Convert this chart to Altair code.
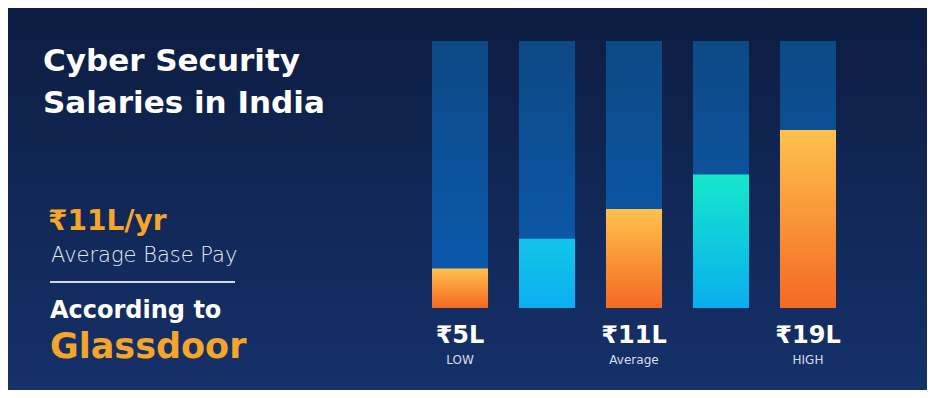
import altair as alt
import pandas as pd

# ---- data ----
categories = ["b1", "b2", "b3", "b4", "b5"]
values = [5, 8, 11, 14.5, 19]          # salary in lakh (₹L)
value_labels = ["₹5L", "", "₹11L", "", "₹19L"]
tier_labels = ["LOW", "", "Average", "", "HIGH"]
styles = ["orange", "cyan", "orange", "teal", "orange"]
y_min, y_max = 1, 28

df = pd.DataFrame({
    "cat": categories,
    "val": values,
    "vlabel": value_labels,
    "tier": tier_labels,
    "style": styles,
})

W, H = 919, 382
FONT = "DejaVu Sans"
ORANGE_TXT = "#f5a52a"


def grad(top, bottom):
    return alt.Gradient(
        gradient="linear",
        stops=[alt.GradientStop(color=top, offset=0),
               alt.GradientStop(color=bottom, offset=1)],
        x1=0, x2=0, y1=0, y2=1,
    )


xscale = alt.Scale(domain=categories, range=[424, 828], paddingInner=0.356, paddingOuter=0)
yscale = alt.Scale(domain=[y_min, y_max], range=[300, 33])
X = alt.X("cat:N", scale=xscale, axis=None)

base = alt.Chart(df)

# page background
bg = alt.Chart(pd.DataFrame({"a": [0]})).mark_rect(
    fill=grad("#0d1d42", "#15316a")
).encode(x=alt.value(0), x2=alt.value(W), y=alt.value(0), y2=alt.value(H))

# track bars
track = base.mark_bar(fill=grad("#0d4984", "#0b5bb2")).encode(
    x=X,
    y=alt.Y(datum=y_max, scale=yscale, axis=None),
    y2=alt.Y2(datum=y_min),
)

def value_bars(style, top, bottom):
    return base.transform_filter(alt.datum.style == style).mark_bar(
        fill=grad(top, bottom)
    ).encode(
        x=X,
        y=alt.Y("val:Q", scale=yscale, axis=None),
        y2=alt.Y2(datum=y_min),
    )

orange = value_bars("orange", "#ffc24d", "#f46924")
cyan = value_bars("cyan", "#12c5e9", "#0bafef")
teal = value_bars("teal", "#16e8cb", "#0aadf0")

vlabels = base.mark_text(
    font=FONT, fontSize=24, fontWeight="bold", color="white", baseline="alphabetic"
).encode(x=X, y=alt.value(335), text="vlabel:N")

tlabels = base.mark_text(
    font=FONT, fontSize=12, color="#d6deec", baseline="alphabetic"
).encode(x=X, y=alt.value(356), text="tier:N")


def note(text, x, y, size, color, weight="bold"):
    return alt.Chart(pd.DataFrame({"t": [text]})).mark_text(
        font=FONT, fontSize=size, fontWeight=weight, color=color,
        align="left", baseline="alphabetic",
    ).encode(x=alt.value(x), y=alt.value(y), text="t:N")

t1 = note("Cyber Security", 35, 63, 31, "white")
t2 = note("Salaries in India", 35, 105, 31, "white")
t3 = note("₹11L/yr", 40, 222, 28, ORANGE_TXT)
t4 = note("Average Base Pay", 43, 254, 21, "#e4eaf4", weight=300)
rule = alt.Chart(pd.DataFrame({"a": [0]})).mark_rule(
    color="#d0d8e8", strokeWidth=2
).encode(x=alt.value(42), x2=alt.value(227), y=alt.value(274))
t5 = note("According to", 42, 310, 24, "white")
t6 = note("Glassdoor", 42, 350, 35, ORANGE_TXT)

chart = alt.layer(
    bg, track, orange, cyan, teal, vlabels, tlabels, t1, t2, t3, t4, rule, t5, t6
).properties(
    width=W, height=H, padding=0, background="#112656"
).configure_view(stroke=None)

chart.save("out.html", embed_options={"renderer": "svg", "actions": False})
